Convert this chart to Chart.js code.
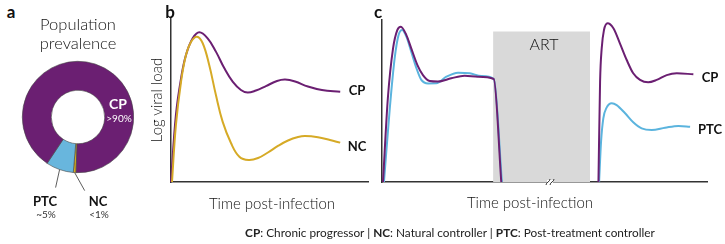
<!DOCTYPE html>
<html>
<head>
<meta charset="utf-8">
<script src="https://cdn.jsdelivr.net/npm/chart.js@4.4.1/dist/chart.umd.min.js"></script>
<style>
  body { margin: 0; width: 725px; height: 244px; background: #fff; position: relative; overflow: hidden;
         font-family: Lato, "Noto Sans", sans-serif; color: #222; }
  canvas { position: absolute; }
  .t { position: absolute; white-space: nowrap; line-height: 1; transform: translate(-50%, -50%); }
  .letter { font-weight: bold; font-size: 17px; color: #111; }
  .lbl { font-weight: bold; font-size: 13px; color: #111; }
  .sub { font-size: 10px; color: #333; }
  .axt { font-size: 15px; color: #111; font-weight: 300; }
</style>
</head>
<body>
<canvas id="donut" width="160" height="180" style="left:0;top:40px"></canvas>
<canvas id="chartB" width="215" height="180" style="left:160px;top:10px"></canvas>
<canvas id="chartC" width="345" height="180" style="left:372px;top:10px"></canvas>

<div class="t letter" style="left:11px;top:11px">a</div>
<div class="t letter" style="left:170px;top:11px">b</div>
<div class="t letter" style="left:378px;top:11px">c</div>

<div class="t axt" style="left:78px;top:24px;font-size:16.5px">Population</div>
<div class="t axt" style="left:78px;top:43px;font-size:16.5px">prevalence</div>

<div class="t lbl" style="left:118px;top:104px;color:#fff;font-size:14px">CP</div>
<div class="t sub" style="left:119px;top:118px;color:#fff">&gt;90%</div>
<div class="t lbl" style="left:45px;top:201px">PTC</div>
<div class="t sub" style="left:46px;top:214px">~5%</div>
<div class="t lbl" style="left:98px;top:201px">NC</div>
<div class="t sub" style="left:99px;top:214px">&lt;1%</div>

<div class="t axt" style="left:156px;top:100px;transform:translate(-50%,-50%) rotate(-90deg)">Log viral load</div>
<div class="t axt" style="left:272px;top:203px">Time post-infection</div>
<div class="t axt" style="left:530px;top:202px">Time post-infection</div>
<div class="t axt" style="left:544px;top:44px;font-size:16px">ART</div>

<div class="t lbl" style="left:357px;top:90px">CP</div>
<div class="t lbl" style="left:357px;top:146px">NC</div>
<div class="t lbl" style="left:710px;top:77px">CP</div>
<div class="t lbl" style="left:710px;top:129px">PTC</div>

<div class="t" style="left:450px;top:233px;font-size:11.8px;color:#222"><b>CP</b>: Chronic progressor | <b>NC</b>: Natural controller | <b>PTC</b>: Post-treatment controller</div>

<script>
// population prevalence (%), drawn clockwise starting at the bottom
const prevalenceLabels = ["NC", "PTC", "CP"];
const prevalenceValues = [0.8, 8.0, 91.2];
const prevalenceColors = ["#d6a820", "#68b6dd", "#6b1f72"];

// panel b: time vs log viral load (arbitrary units 0-100)
const bTimeCP = [0, 2.5, 5.1, 7.6, 11.0, 14.4, 18.6, 22.8, 27.1, 31.3, 35.5, 38.9, 43.1, 48.2, 53.8, 57.9, 63.0, 69.5, 76.6, 85.9];
const bLoadCP = [0, 40.9, 63.2, 77.4, 87.6, 91.3, 87.6, 79.5, 69.3, 61.2, 56.1, 54.5, 55.8, 58.5, 61.6, 62.5, 61.3, 58.2, 56.1, 55.1];
const bTimeNC = [0.5, 2.5, 5.1, 7.6, 10.2, 13.2, 16.1, 19.4, 22.8, 26.2, 30.5, 34.7, 39.4, 44.2, 49.2, 54.3, 59.4, 64.5, 68.0, 74.6, 80.7, 85.9];
const bLoadNC = [0, 34.8, 61.2, 77.4, 85.5, 88.6, 84.6, 71.3, 53.0, 36.8, 23.6, 15.4, 13.4, 14.6, 18.0, 22.0, 25.3, 27.4, 28.0, 27.3, 25.6, 24.0];

// panel c: before ART
const cTimeCP1 = [0.3, 1.8, 3.4, 4.7, 5.8, 7.5, 9.0, 10.9, 12.6, 14.7, 17.2, 21.3, 25.4, 29.5, 34.4, 36.7];
const cLoadCP1 = [0, 51.7, 82.5, 93.8, 95.9, 90.7, 82.5, 72.2, 66.0, 62.3, 62.0, 64.0, 65.6, 65.0, 63.6, 0];
const cTimePTC1 = [0.6, 2.4, 3.9, 5.1, 6.2, 7.5, 9.0, 10.6, 12.1, 14.2, 16.7, 19.8, 23.4, 27.0, 30.6, 34.4, 36.9];
const cLoadPTC1 = [0, 45.5, 76.4, 90.7, 93.8, 89.7, 80.4, 70.2, 63.0, 60.8, 60.9, 65.0, 67.5, 67.1, 65.4, 63.6, 0];
// panel c: after ART interruption
const cTimeCP2 = [66.6, 67.1, 67.6, 68.3, 69.4, 71.2, 73.2, 75.3, 77.3, 79.4, 81.9, 84.5, 87.6, 90.7, 95.8];
const cLoadCP2 = [0, 61.9, 82.5, 93.8, 98.0, 94.9, 85.6, 75.3, 67.1, 63.0, 61.5, 63.0, 66.0, 67.1, 66.5];
const cTimePTC2 = [66.8, 67.4, 68.1, 69.1, 70.7, 72.2, 74.8, 77.3, 79.9, 83.0, 87.1, 91.2, 94.8];
const cLoadPTC2 = [0, 24.9, 39.3, 45.9, 48.6, 47.5, 42.4, 36.9, 33.1, 32.1, 33.5, 34.6, 34.1];

// ART window: start, end, top (same units as panel c)
const artWindow = [34.2, 64.0, 92.9];
const axisBreakAt = 51.7;

const PURPLE = "#6b1f72";
const BLUE = "#5bb4de";
const YELLOW = "#d6aa26";
const AXIS = "#333";

function pts(xs, ys) {
  return xs.map((x, i) => ({ x, y: ys[i] }));
}

function curve(xs, ys, color, smooth) {
  const ds = {
    data: pts(xs, ys),
    borderColor: color,
    borderWidth: 2,
    pointRadius: 0,
    fill: false,
    clip: false,
  };
  if (smooth) ds.tension = 0.4;
  else ds.cubicInterpolationMode = "monotone";
  return ds;
}

function axis(max) {
  return {
    type: "linear",
    min: 0,
    max: max,
    grid: { display: false, drawTicks: false, tickLength: 0 },
    ticks: { display: false },
    border: { display: true, color: AXIS, width: 1.5 },
  };
}

const lineOptions = {
  responsive: false,
  animation: false,
  events: [],
  plugins: { legend: { display: false }, tooltip: { enabled: false } },
  scales: { x: axis(100), y: axis(100) },
};

// leader lines under the donut
const leaderPlugin = {
  id: "leaders",
  afterDraw(chart) {
    const ctx = chart.ctx;
    const arcs = chart.getDatasetMeta(0).data;
    const ends = { 1: [-4, 18], 0: [10, 18] }; // PTC, NC
    ctx.save();
    ctx.strokeStyle = "#333";
    ctx.lineWidth = 0.8;
    Object.keys(ends).forEach((i) => {
      const a = arcs[i];
      const mid = (a.startAngle + a.endAngle) / 2;
      const sx = a.x + Math.cos(mid) * a.outerRadius;
      const sy = a.y + Math.sin(mid) * a.outerRadius;
      ctx.beginPath();
      ctx.moveTo(sx, sy);
      ctx.lineTo(sx + ends[i][0], sy + ends[i][1]);
      ctx.stroke();
    });
    ctx.restore();
  },
};

// grey ART band and the axis break
const artPlugin = {
  id: "art",
  beforeDatasetsDraw(chart) {
    const { ctx, scales } = chart;
    const x0 = scales.x.getPixelForValue(artWindow[0]);
    const x1 = scales.x.getPixelForValue(artWindow[1]);
    const y0 = scales.y.getPixelForValue(artWindow[2]);
    const y1 = scales.y.getPixelForValue(0);
    ctx.save();
    ctx.fillStyle = "#d9d9d9";
    ctx.fillRect(x0, y0, x1 - x0, y1 - y0);
    ctx.restore();
  },
  afterDraw(chart) {
    const { ctx, scales } = chart;
    const bx = scales.x.getPixelForValue(axisBreakAt);
    const by = scales.y.getPixelForValue(0);
    ctx.save();
    ctx.fillStyle = "#fff";
    ctx.fillRect(bx - 3, by - 2, 6, 4);
    ctx.strokeStyle = AXIS;
    ctx.lineWidth = 1;
    [-2, 2].forEach((dx) => {
      ctx.beginPath();
      ctx.moveTo(bx + dx - 2, by + 3);
      ctx.bezierCurveTo(bx + dx - 2, by, bx + dx + 2, by, bx + dx + 2, by - 3);
      ctx.stroke();
    });
    ctx.restore();
  },
};

new Chart(document.getElementById("donut"), {
  type: "doughnut",
  data: {
    labels: prevalenceLabels,
    datasets: [
      {
        data: prevalenceValues,
        backgroundColor: prevalenceColors,
        borderColor: "#444",
        borderWidth: 0.6,
      },
    ],
  },
  options: {
    responsive: false,
    animation: false,
    events: [],
    rotation: 182,
    cutout: "48%",
    layout: { padding: { left: 22, right: 26, top: 21, bottom: 47 } },
    plugins: { legend: { display: false }, tooltip: { enabled: false } },
  },
  plugins: [leaderPlugin],
});

new Chart(document.getElementById("chartB"), {
  type: "line",
  data: {
    datasets: [curve(bTimeNC, bLoadNC, YELLOW, true), curve(bTimeCP, bLoadCP, PURPLE, true)],
  },
  options: {
    ...lineOptions,
    layout: { padding: { left: 11, right: 7, top: 8, bottom: 8 } },
  },
});

new Chart(document.getElementById("chartC"), {
  type: "line",
  data: {
    datasets: [
      curve(cTimeCP1, cLoadCP1, PURPLE),
      curve(cTimePTC1, cLoadPTC1, BLUE),
      curve(cTimeCP2, cLoadCP2, PURPLE),
      curve(cTimePTC2, cLoadPTC2, BLUE),
    ],
  },
  options: {
    ...lineOptions,
    layout: { padding: { left: 10, right: 10, top: 10, bottom: 8 } },
  },
  plugins: [artPlugin],
});
</script>
</body>
</html>
